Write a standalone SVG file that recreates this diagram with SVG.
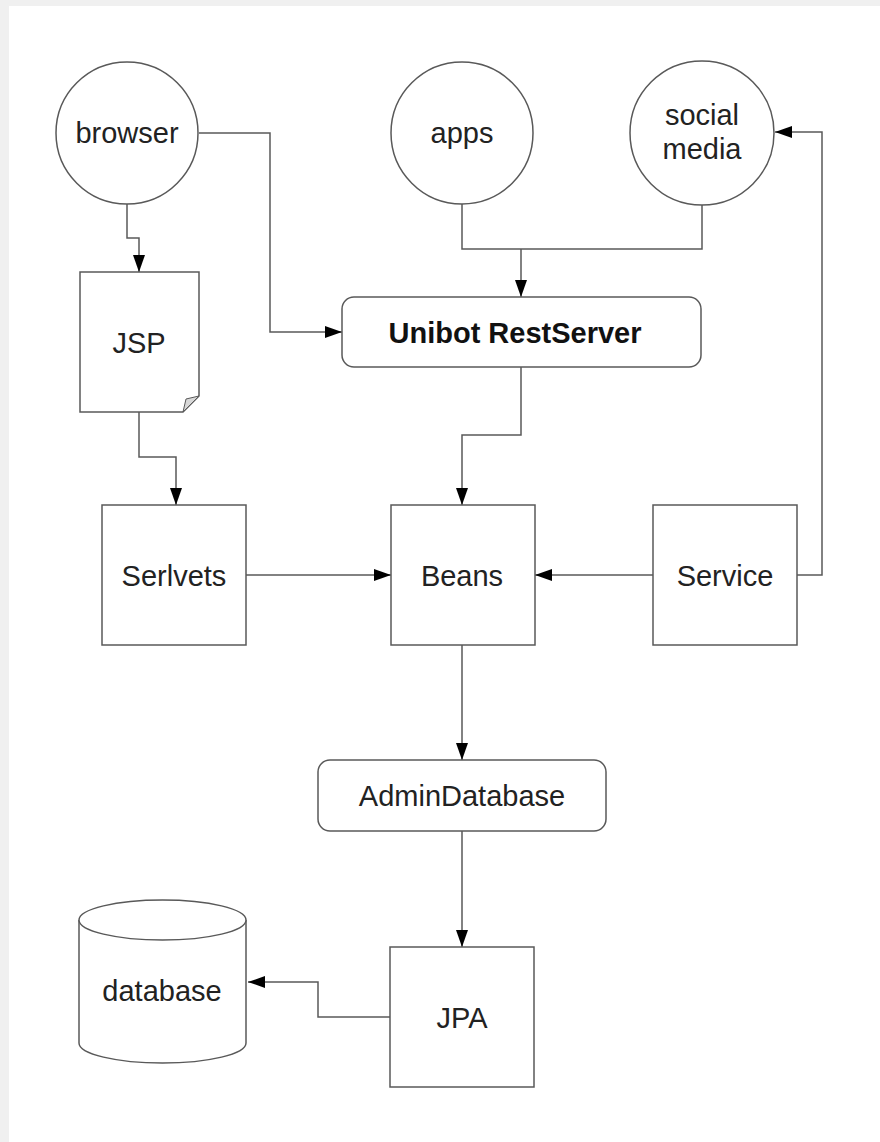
<svg xmlns="http://www.w3.org/2000/svg" width="880" height="1142" viewBox="0 0 880 1142">
<style>
.shape{fill:#fff;stroke:#595959;stroke-width:1.5}
.conn{fill:none;stroke:#595959;stroke-width:1.5}
.t{font-family:"Liberation Sans",Arial,sans-serif;font-size:29px;fill:#222;text-anchor:middle}
.b{font-weight:bold;fill:#111}
</style>
<defs>
<marker id="arr" markerUnits="userSpaceOnUse" markerWidth="17" markerHeight="12" refX="17" refY="6" orient="auto">
<path d="M0,0 L17,6 L0,12 Z" fill="#000"/>
</marker>
</defs>
<rect x="0" y="0" width="880" height="1142" fill="#f0f0f0"/>
<rect x="9" y="6" width="871" height="1136" fill="#fff"/>
<g id="connectors">
<path class="conn" d="M127,204 V238 H139 V272" marker-end="url(#arr)"/>
<path class="conn" d="M199,133 H270 V332 H342" marker-end="url(#arr)"/>
<path class="conn" d="M462,204 V249 H702 V205"/>
<path class="conn" d="M521,249 V297" marker-end="url(#arr)"/>
<path class="conn" d="M521,367 V435 H462 V505" marker-end="url(#arr)"/>
<path class="conn" d="M139,412 V457 H176 V505" marker-end="url(#arr)"/>
<path class="conn" d="M246,575 H391" marker-end="url(#arr)"/>
<path class="conn" d="M653,575 H535" marker-end="url(#arr)"/>
<path class="conn" d="M797,575 H822 V132 H775" marker-end="url(#arr)"/>
<path class="conn" d="M462,645 V760" marker-end="url(#arr)"/>
<path class="conn" d="M462,831 V947" marker-end="url(#arr)"/>
<path class="conn" d="M390,1017 H318 V982 H248" marker-end="url(#arr)"/>
</g>
<g id="browser">
<circle class="shape" cx="127" cy="133" r="71"/>
<text class="t" x="127" y="143">browser</text>
</g>
<g id="apps">
<circle class="shape" cx="462" cy="133" r="71"/>
<text class="t" x="462" y="143">apps</text>
</g>
<g id="social-media">
<circle class="shape" cx="702" cy="133" r="72"/>
<text class="t" x="702" y="125">social</text>
<text class="t" x="702" y="159">media</text>
</g>
<g id="jsp">
<path class="shape" d="M80,272 H199 V396 L183,412 H80 Z"/>
<path d="M199,396 L186,399 L183,412 Z" fill="#d8d8d8" stroke="#595959" stroke-width="1"/>
<text class="t" x="139" y="353">JSP</text>
</g>
<g id="unibot-restserver">
<rect class="shape" x="342" y="297" width="359" height="70" rx="12"/>
<text class="t b" x="515" y="343">Unibot RestServer</text>
</g>
<g id="serlvets">
<rect class="shape" x="102" y="505" width="144" height="140"/>
<text class="t" x="174" y="586">Serlvets</text>
</g>
<g id="beans">
<rect class="shape" x="391" y="505" width="144" height="140"/>
<text class="t" x="462" y="586">Beans</text>
</g>
<g id="service">
<rect class="shape" x="653" y="505" width="144" height="140"/>
<text class="t" x="725" y="586">Service</text>
</g>
<g id="admindatabase">
<rect class="shape" x="318" y="760" width="288" height="71" rx="12"/>
<text class="t" x="462" y="806">AdminDatabase</text>
</g>
<g id="jpa">
<rect class="shape" x="390" y="947" width="144" height="140"/>
<text class="t" x="462" y="1028">JPA</text>
</g>
<g id="database">
<path class="shape" d="M79,920 V1043 A83.5,20 0 0 0 246,1043 V920"/>
<ellipse class="shape" cx="162.5" cy="920" rx="83.5" ry="20"/>
<text class="t" x="162" y="1001">database</text>
</g>
</svg>
